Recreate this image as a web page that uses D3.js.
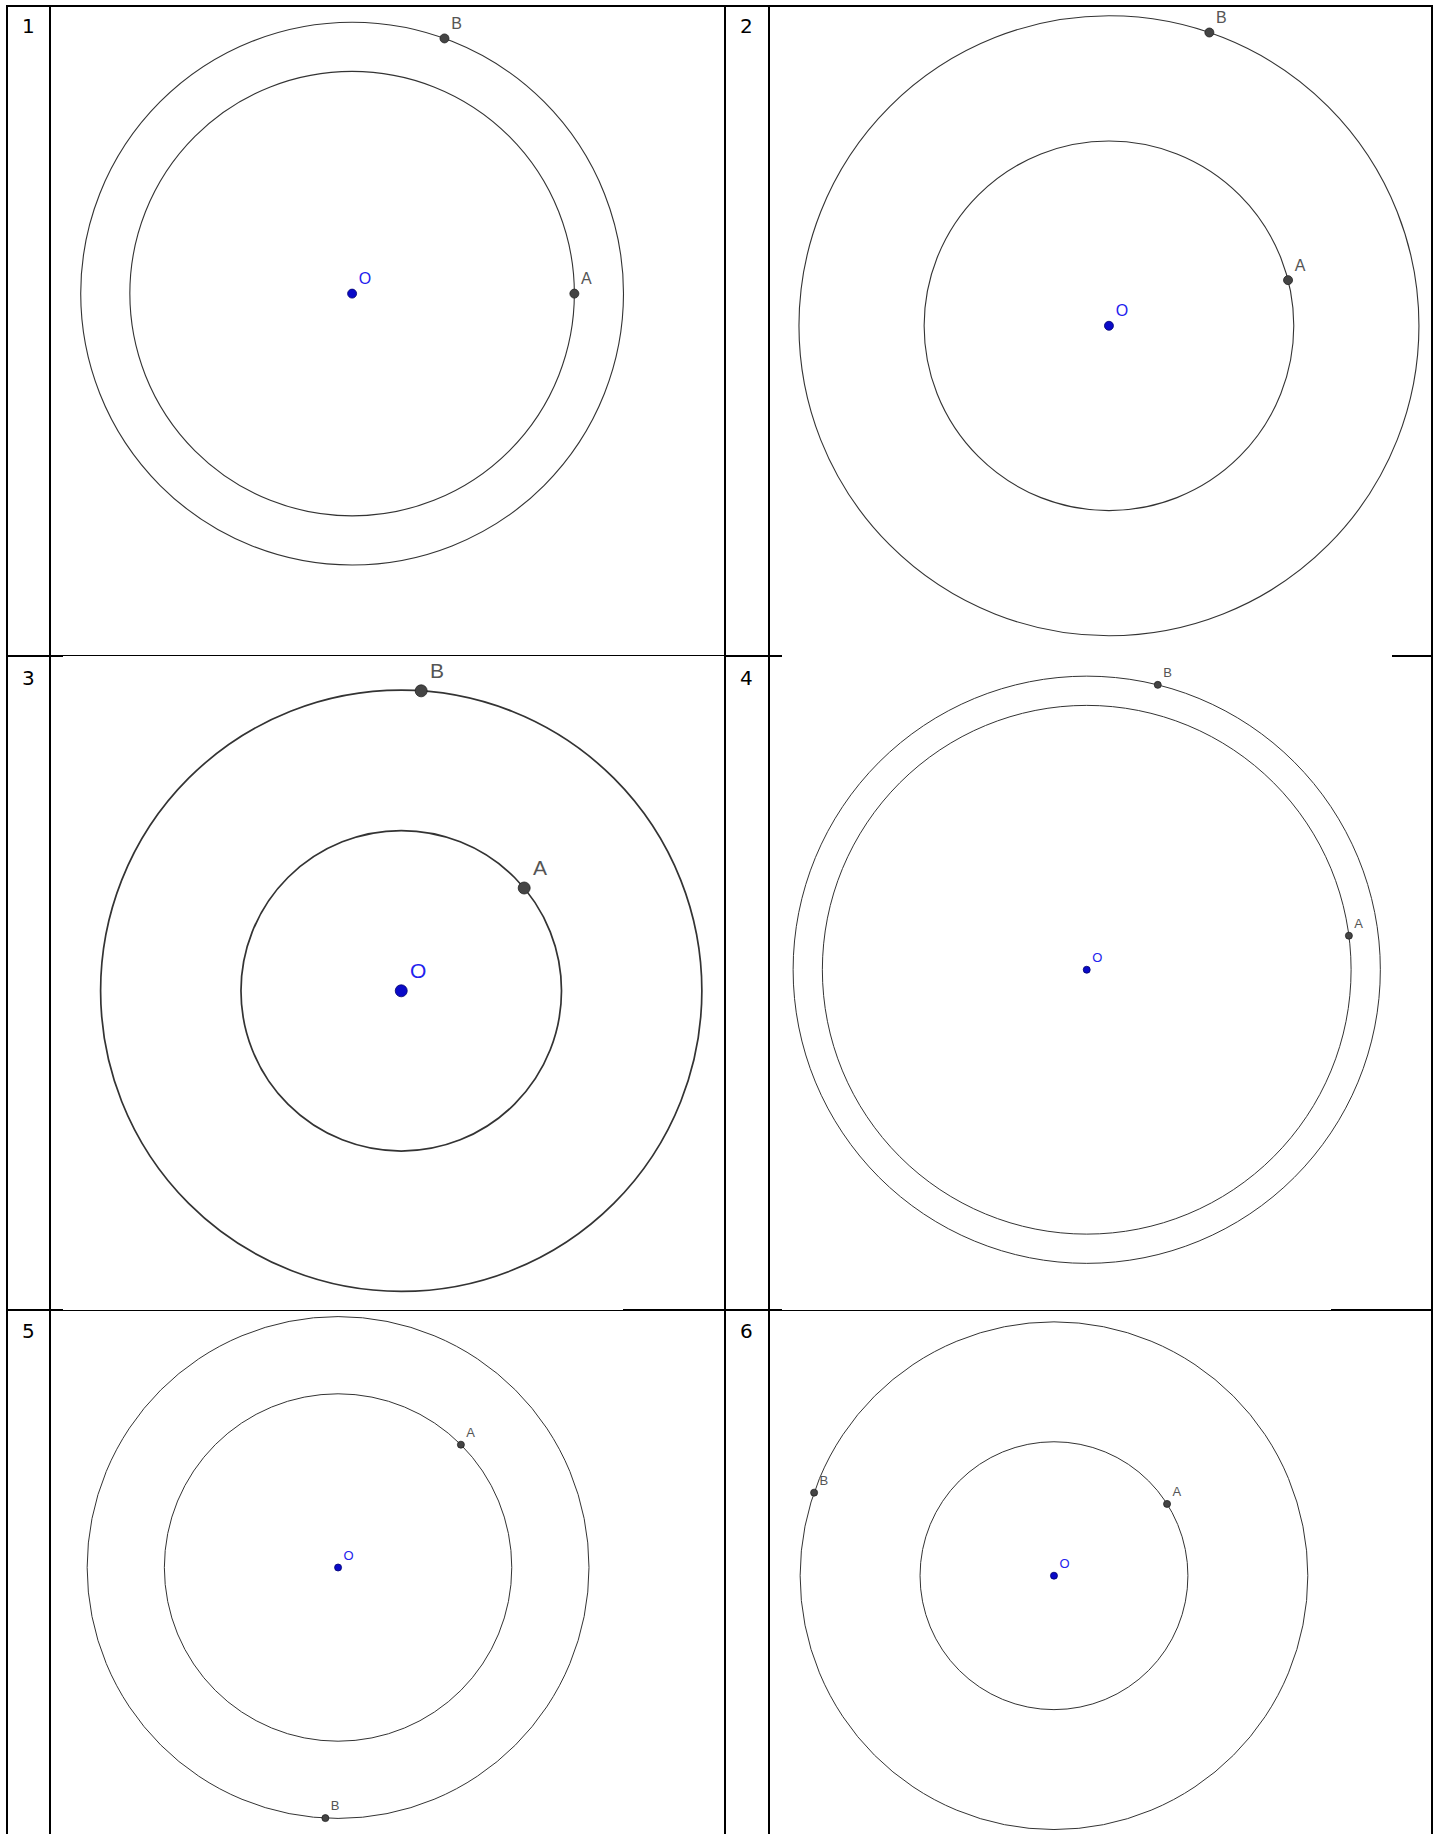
<!DOCTYPE html>
<html><head><meta charset="utf-8">
<script src="https://cdn.jsdelivr.net/npm/d3@7"></script>
<style>html,body{margin:0;padding:0;background:#fff}</style>
</head><body>
<svg id="chart" width="1440" height="1834"></svg>
<script>
// ---- data ----
const panelNumbers = ["1", "2", "3", "4", "5", "6"];
const innerRadius = [190, 158, 137, 226, 148.5, 114.5];   // reference units
const outerRadius = [232, 265, 257, 251, 214.5, 217];
const bearingA = [90, 75.7, 50.1, 82.6, 45, 57.6];          // degrees clockwise from 12 o'clock
const bearingB = [19.9, 18.9, 3.8, 14.0, 182.9, 289.1];
const pointNames = ["O", "A", "B"];

// ---- layout ----
const W = 1440, H = 1834;
const toPx = d3.scaleLinear().domain([0, 1231]).range([0, 1440]);
const centers = [[301, 251], [948, 278.5], [343, 847], [929, 829], [289, 1340], [901, 1347]];
const numberPos = [[22, 33], [740, 33], [22, 685], [740, 685], [22, 1338], [740, 1338]];
const labelSize = [16, 16, 21, 13, 13, 13];
const dotR = [4.5, 4.5, 6, 3.5, 3.5, 3.5];
const circleW = [1.1, 1.1, 1.7, 1, 1, 1];

const svg = d3.select("#chart");
svg.append("rect").attr("width", W).attr("height", H).attr("fill", "#fff");

// table grid
const thick = 2, thin = 1;
const vLines = [[7, 5, H], [50, 5, H], [725.3, 5, H], [769.2, 5, H], [1431.7, 5, H]];
const hLines = [
  [6, 6, 1432.7, thick],
  [655.7, 6, 63, thick], [655.7, 63, 725, thin], [655.7, 725, 782, thick], [655.7, 1392, 1432.7, thick],
  [1310, 6, 63, thick], [1310, 63, 623, thin], [1310, 623, 782, thick], [1310, 782, 1331, thin], [1310, 1331, 1432.7, thick]
];
const grid = svg.append("g").attr("stroke", "#000").attr("shape-rendering", "crispEdges");
grid.selectAll("line.v").data(vLines).join("line").attr("class", "v")
  .attr("x1", d => d[0]).attr("x2", d => d[0]).attr("y1", d => d[1]).attr("y2", d => d[2])
  .attr("stroke-width", thick);
grid.selectAll("line.h").data(hLines).join("line").attr("class", "h")
  .attr("x1", d => d[1]).attr("x2", d => d[2]).attr("y1", d => d[0]).attr("y2", d => d[0])
  .attr("stroke-width", d => d[3]);

// panel numbers
svg.selectAll("text.num").data(panelNumbers).join("text").attr("class", "num")
  .attr("x", (d, i) => numberPos[i][0]).attr("y", (d, i) => numberPos[i][1])
  .attr("font-family", "'DejaVu Sans', sans-serif").attr("font-size", 20).attr("fill", "#000")
  .text(d => d);

// panels
panelNumbers.forEach((p, i) => {
  const cx = toPx(centers[i][0]), cy = toPx(centers[i][1]);
  const g = svg.append("g").attr("transform", `translate(${cx},${cy})`);
  const rIn = toPx(innerRadius[i]), rOut = toPx(outerRadius[i]);
  g.selectAll("circle.ring").data([rIn, rOut]).join("circle").attr("class", "ring")
    .attr("r", d => d).attr("fill", "none").attr("stroke", "#333").attr("stroke-width", circleW[i]);

  const pA = d3.pointRadial(bearingA[i] * Math.PI / 180, rIn);
  const pB = d3.pointRadial(bearingB[i] * Math.PI / 180, rOut);
  const pts = [
    {name: pointNames[0], x: 0, y: 0, fill: "#0a0ac8", stroke: "#00006e", lab: "#2222ee"},
    {name: pointNames[1], x: pA[0], y: pA[1], fill: "#444", stroke: "#222", lab: "#555"},
    {name: pointNames[2], x: pB[0], y: pB[1], fill: "#444", stroke: "#222", lab: "#555"}
  ];
  const fs = labelSize[i];
  g.selectAll("circle.pt").data(pts).join("circle").attr("class", "pt")
    .attr("cx", d => d.x).attr("cy", d => d.y).attr("r", dotR[i])
    .attr("fill", d => d.fill).attr("stroke", d => d.stroke).attr("stroke-width", 0.8);
  g.selectAll("text.lab").data(pts).join("text").attr("class", "lab")
    .attr("x", d => d.x + fs * 0.42).attr("y", d => d.y - fs * 0.6)
    .attr("font-family", "'Liberation Sans', Arial, sans-serif").attr("font-size", fs)
    .attr("fill", d => d.lab).text(d => d.name);
});
</script>
</body></html>
